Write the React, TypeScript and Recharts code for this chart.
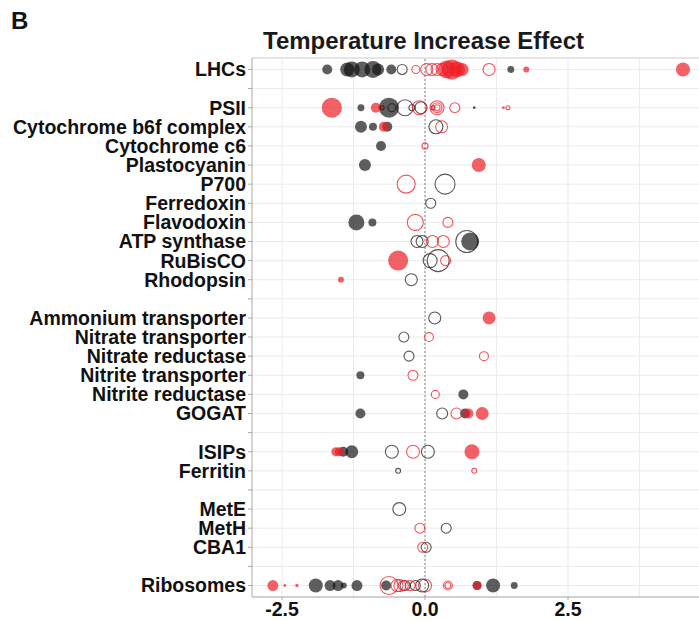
import React from "react";
import {
  ScatterChart,
  Scatter,
  XAxis,
  YAxis,
  ZAxis,
  CartesianGrid,
  ReferenceLine,
} from "recharts";

// Row order on the y axis; empty strings are spacer rows between functional groups.
const rows: string[] = [
  "LHCs",
  "",
  "PSII",
  "Cytochrome b6f complex",
  "Cytochrome c6",
  "Plastocyanin",
  "P700",
  "Ferredoxin",
  "Flavodoxin",
  "ATP synthase",
  "RuBisCO",
  "Rhodopsin",
  "",
  "Ammonium transporter",
  "Nitrate transporter",
  "Nitrate reductase",
  "Nitrite transporter",
  "Nitrite reductase",
  "GOGAT",
  "",
  "ISIPs",
  "Ferritin",
  "",
  "MetE",
  "MetH",
  "CBA1",
  "",
  "Ribosomes",
];

const xTicks: number[] = [-2.5, 0, 2.5];
const xGrid: number[] = [-2.5, -1.25, 0, 1.25, 2.5, 3.75];

type Entry = [string, number, number]; // [protein group, log2 fold change, size]

// Grey, filled
const greyFilled: Entry[] = [
  ["LHCs", -1.71, 25], ["LHCs", -1.36, 49], ["LHCs", -1.28, 64], ["LHCs", -1.1, 64],
  ["LHCs", -0.91, 72], ["LHCs", -0.82, 36], ["LHCs", -0.59, 25], ["LHCs", 1.5, 12],
  ["PSII", -1.12, 12], ["PSII", -0.63, 100], ["PSII", 0.86, 2],
  ["Cytochrome b6f complex", -1.12, 36], ["Cytochrome b6f complex", -0.91, 16], ["Cytochrome b6f complex", -0.66, 25],
  ["Cytochrome c6", -0.77, 25],
  ["Plastocyanin", -1.05, 36],
  ["Flavodoxin", -1.2, 64], ["Flavodoxin", -0.92, 16],
  ["ATP synthase", 0.79, 81],
  ["Nitrite transporter", -1.13, 16],
  ["Nitrite reductase", 0.67, 25],
  ["GOGAT", -1.13, 25], ["GOGAT", 0.7, 25],
  ["ISIPs", -1.43, 25], ["ISIPs", -1.28, 42],
  ["Ribosomes", -1.91, 49], ["Ribosomes", -1.66, 30], ["Ribosomes", -1.52, 30], ["Ribosomes", -1.42, 9],
  ["Ribosomes", -1.19, 30], ["Ribosomes", -0.68, 25], ["Ribosomes", 0.91, 20], ["Ribosomes", 1.19, 49],
  ["Ribosomes", 1.56, 12],
];

// Grey, open
const greyOpen: Entry[] = [
  ["LHCs", -0.4, 25],
  ["PSII", -0.75, 4], ["PSII", -0.58, 16], ["PSII", -0.35, 64], ["PSII", -0.23, 9], ["PSII", -0.07, 36], ["PSII", 0.14, 4],
  ["Cytochrome b6f complex", 0.19, 49],
  ["P700", 0.35, 100],
  ["Ferredoxin", 0.1, 25],
  ["ATP synthase", -0.14, 36], ["ATP synthase", -0.05, 36], ["ATP synthase", 0.73, 121],
  ["RuBisCO", 0.09, 49], ["RuBisCO", 0.23, 121],
  ["Rhodopsin", -0.24, 36],
  ["Ammonium transporter", 0.17, 36],
  ["Nitrate transporter", -0.37, 25],
  ["Nitrate reductase", -0.28, 25],
  ["GOGAT", 0.3, 30],
  ["ISIPs", -0.58, 42], ["ISIPs", 0.05, 42],
  ["Ferritin", -0.47, 6],
  ["MetE", -0.45, 42],
  ["MetH", 0.37, 25],
  ["CBA1", 0.02, 25],
  ["Ribosomes", -0.35, 25], ["Ribosomes", -0.17, 25], ["Ribosomes", -0.05, 42],
];

// Red, filled
const redFilled: Entry[] = [
  ["LHCs", 0.38, 81], ["LHCs", 0.47, 100], ["LHCs", 0.56, 64], ["LHCs", 0.65, 42], ["LHCs", 1.77, 9], ["LHCs", 4.51, 49],
  ["PSII", -1.63, 100], ["PSII", -0.86, 25], ["PSII", -0.78, 6], ["PSII", 1.37, 2],
  ["Cytochrome b6f complex", -0.72, 25],
  ["Plastocyanin", 0.94, 49],
  ["RuBisCO", -0.47, 100],
  ["Rhodopsin", -1.47, 9],
  ["Ammonium transporter", 1.12, 42],
  ["GOGAT", 0.76, 25], ["GOGAT", 1.0, 42],
  ["ISIPs", -1.56, 20], ["ISIPs", -1.5, 20], ["ISIPs", 0.82, 56],
  ["Ribosomes", -2.66, 30], ["Ribosomes", -2.45, 2], ["Ribosomes", -2.24, 3], ["Ribosomes", 0.91, 20],
];

// Red, open
const redOpen: Entry[] = [
  ["LHCs", -0.16, 16], ["LHCs", 0.03, 36], ["LHCs", 0.12, 36], ["LHCs", 0.21, 36], ["LHCs", 0.3, 36], ["LHCs", 1.12, 36],
  ["PSII", -0.1, 49], ["PSII", 0.21, 49], ["PSII", 0.21, 25], ["PSII", 0.21, 9], ["PSII", 0.52, 25], ["PSII", 1.45, 4],
  ["Cytochrome b6f complex", 0.29, 36],
  ["Cytochrome c6", 0.0, 9],
  ["P700", -0.33, 81],
  ["Flavodoxin", -0.17, 64], ["Flavodoxin", 0.4, 25],
  ["ATP synthase", 0.13, 36], ["ATP synthase", 0.32, 36],
  ["RuBisCO", 0.36, 25],
  ["Nitrate transporter", 0.07, 20],
  ["Nitrate reductase", 1.03, 20],
  ["Nitrite transporter", -0.21, 25],
  ["Nitrite reductase", 0.18, 16],
  ["GOGAT", 0.55, 30],
  ["ISIPs", -0.21, 42],
  ["Ferritin", 0.86, 6],
  ["MetH", -0.09, 25],
  ["CBA1", -0.04, 25],
  ["Ribosomes", -0.63, 81], ["Ribosomes", -0.49, 36], ["Ribosomes", -0.44, 36], ["Ribosomes", -0.38, 25],
  ["Ribosomes", -0.26, 25], ["Ribosomes", 0.0, 42], ["Ribosomes", 0.4, 20], ["Ribosomes", 0.4, 9],
];

const toPoints = (list: Entry[]) =>
  list.map(([name, x, z]) => ({ name, y: rows.indexOf(name), x, z }));

const FONT = '"Liberation Sans", Arial, sans-serif';
const RED = "#ee1c25";
const GREY = "#111111";

export default function App() {
  return (
    <div
      style={{
        position: "absolute",
        left: 0,
        top: 0,
        width: 699,
        height: 622,
        background: "#ffffff",
        fontFamily: FONT,
      }}
    >
      <div
        style={{
          position: "absolute",
          left: 11,
          top: 9,
          fontSize: 24,
          lineHeight: "24px",
          fontWeight: 700,
          color: "#111",
        }}
      >
        B
      </div>
      <div
        style={{
          position: "absolute",
          left: 263,
          top: 29,
          fontSize: 24,
          lineHeight: "24px",
          fontWeight: 700,
          color: "#1a1a1a",
          whiteSpace: "nowrap",
        }}
      >
        Temperature Increase Effect
      </div>
      <ScatterChart
        width={699}
        height={622}
        margin={{ top: 58, right: 0, bottom: 0, left: 0 }}
      >
        <CartesianGrid vertical={false} stroke="#ebebeb" strokeWidth={1} />
        {xGrid.map((v) => (
          <ReferenceLine key={`g${v}`} x={v} stroke="#ebebeb" strokeWidth={1} />
        ))}
        <ReferenceLine y={-0.6} stroke="#d4d4d4" strokeWidth={1} />
        <XAxis
          type="number"
          dataKey="x"
          domain={[-3.025, 4.79]}
          ticks={xTicks}
          tickFormatter={(v: number) => v.toFixed(1)}
          height={25}
          tickSize={3}
          tickMargin={2}
          axisLine={{ stroke: "#aaaaaa" }}
          tickLine={{ stroke: "#aaaaaa" }}
          tick={{ fill: "#111", fontSize: 19.5, fontWeight: 700, fontFamily: FONT }}
        />
        <YAxis
          type="number"
          dataKey="y"
          domain={[-0.6, 27.6]}
          reversed
          ticks={rows.map((_, i) => i)}
          interval={0}
          tickFormatter={(i: number) => rows[i] ?? ""}
          width={252}
          tickSize={4}
          tickMargin={2}
          axisLine={{ stroke: "#aaaaaa" }}
          tickLine={{ stroke: "#aaaaaa" }}
          tick={{ fill: "#111", fontSize: 19.5, fontWeight: 700, fontFamily: FONT }}
        />
        <ZAxis type="number" dataKey="z" domain={[0, 144]} range={[0, 144 * Math.PI]} />
        <ReferenceLine x={0} stroke="#666666" strokeWidth={0.8} strokeDasharray="2 2" />
        <Scatter
          data={toPoints(greyFilled)}
          fill={GREY}
          fillOpacity={0.68}
          stroke="none"
          isAnimationActive={false}
        />
        <Scatter
          data={toPoints(redFilled)}
          fill={RED}
          fillOpacity={0.7}
          stroke="none"
          isAnimationActive={false}
        />
        <Scatter
          data={toPoints(greyOpen)}
          fill="none"
          stroke={GREY}
          strokeOpacity={0.7}
          strokeWidth={1.1}
          isAnimationActive={false}
        />
        <Scatter
          data={toPoints(redOpen)}
          fill="none"
          stroke={RED}
          strokeOpacity={0.75}
          strokeWidth={1.1}
          isAnimationActive={false}
        />
      </ScatterChart>
    </div>
  );
}
